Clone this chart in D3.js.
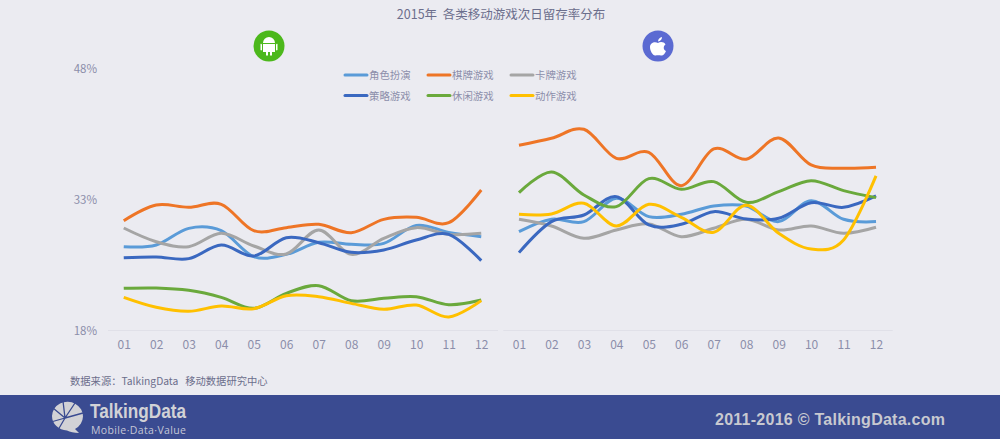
<!DOCTYPE html>
<html>
<head>
<meta charset="utf-8">
<script src="https://cdn.jsdelivr.net/npm/d3@7"></script>
<style>
  html, body { margin: 0; padding: 0; background: #ebebf1; overflow: hidden; }
  text { font-family: "Noto Sans CJK SC", "Noto Sans", sans-serif; white-space: pre; }
  .axis path { stroke: #e0e0e8; }
  .axis text { fill: #8b8eaa; font-size: 12px; font-family: "Noto Sans CJK SC", "Noto Sans", sans-serif; }
</style>
</head>
<body>
<svg id="chart" width="1000" height="439"></svg>
<script>
const months = ['01', '02', '03', '04', '05', '06', '07', '08', '09', '10', '11', '12'];
const yTicks = [18, 33, 48];
const seriesNames = ['角色扮演', '棋牌游戏', '卡牌游戏', '策略游戏', '休闲游戏', '动作游戏'];
const seriesColors = ['#5a9bd8', '#ee7526', '#a5a5a5', '#3a68c0', '#6aa93c', '#ffc000'];

// android
const androidRole = [27.54, 27.73, 29.64, 29.37, 26.40, 26.66, 28.04, 27.81, 27.92, 29.98, 29.18, 28.69];
const androidChess = [30.52, 32.31, 32.05, 32.39, 29.37, 29.72, 30.10, 29.14, 30.67, 30.90, 30.29, 34.03];
const androidCard = [29.68, 28.11, 27.54, 29.07, 27.62, 26.70, 29.45, 26.66, 28.50, 29.72, 28.95, 29.07];
const androidStrategy = [26.28, 26.36, 26.17, 27.73, 26.47, 28.57, 28.00, 26.89, 27.16, 28.30, 28.95, 25.94];
const androidCasual = [22.77, 22.81, 22.54, 21.74, 20.48, 22.20, 23.08, 21.36, 21.63, 21.82, 20.90, 21.43];
const androidAction = [21.74, 20.60, 20.14, 20.75, 20.44, 21.93, 21.82, 21.05, 20.37, 20.86, 19.49, 21.36];

// ios
const iosRole = [29.26, 30.68, 30.41, 33.08, 30.98, 31.25, 32.20, 32.20, 30.41, 32.81, 30.68, 30.41];
const iosChess = [39.15, 39.95, 40.98, 37.66, 38.35, 34.53, 38.73, 37.55, 39.99, 36.90, 36.52, 36.63];
const iosCard = [30.68, 29.91, 28.50, 29.45, 30.14, 28.69, 29.65, 30.68, 29.45, 29.91, 29.07, 29.76];
const iosStrategy = [26.86, 30.41, 31.17, 33.27, 30.03, 30.10, 31.55, 30.71, 30.79, 32.58, 32.05, 33.35];
const iosCasual = [33.73, 36.10, 33.46, 32.13, 35.33, 34.11, 34.99, 32.62, 33.84, 35.10, 33.96, 33.16];
const iosAction = [31.25, 31.29, 32.51, 29.91, 32.39, 30.90, 29.19, 32.28, 29.07, 27.28, 28.31, 35.64];

const androidSeries = [androidRole, androidChess, androidCard, androidStrategy, androidCasual, androidAction];
const iosSeries = [iosRole, iosChess, iosCard, iosStrategy, iosCasual, iosAction];

const svg = d3.select('#chart');
const yScale = d3.scaleLinear().domain([18, 48]).range([330, 68]);

svg.append('rect').attr('width', 1000).attr('height', 439).attr('fill', '#ebebf1');

svg.append('text')
  .attr('x', 501).attr('y', 18.5)
  .attr('text-anchor', 'middle')
  .attr('font-size', 12.5)
  .attr('fill', '#6b6e8c')
  .text('2015年  各类移动游戏次日留存率分布');

// y labels only, the axis line is hidden
const yAxis = svg.append('g')
  .attr('class', 'axis')
  .attr('transform', 'translate(97,1)')
  .call(d3.axisLeft(yScale).tickValues(yTicks).tickSize(0).tickPadding(0).tickFormat(d => d + '%'));
yAxis.select('.domain').remove();
yAxis.selectAll('text').style('font-size', '11.5px');

function drawPanel(left, right, series) {
  const xScale = d3.scalePoint().domain(months).range([left, right]).padding(0.5);
  const g = svg.append('g');

  g.append('g')
    .attr('class', 'axis')
    .attr('transform', 'translate(0,330)')
    .call(d3.axisBottom(xScale).tickSize(0).tickPadding(10));

  const line = d3.line()
    .x((d, i) => xScale(months[i]))
    .y(d => yScale(d))
    .curve(d3.curveCatmullRom.alpha(0));

  g.selectAll('.series')
    .data(series)
    .enter().append('path')
    .attr('class', 'series')
    .attr('fill', 'none')
    .attr('stroke', (d, i) => seriesColors[i])
    .attr('stroke-width', 3)
    .attr('d', line);
}

drawPanel(107.5, 497.5, androidSeries);
drawPanel(502.75, 892.25, iosSeries);

// legend, 3 per row
const legend = svg.selectAll('.legend')
  .data(seriesNames)
  .enter().append('g')
  .attr('class', 'legend')
  .attr('transform', (d, i) => 'translate(' + (345 + (i % 3) * 83) + ',' + (75 + Math.floor(i / 3) * 20.5) + ')');
legend.append('line')
  .attr('x1', 0).attr('x2', 22)
  .attr('stroke', (d, i) => seriesColors[i])
  .attr('stroke-width', 3)
  .attr('stroke-linecap', 'round');
legend.append('text')
  .attr('x', 24).attr('y', 4)
  .attr('font-size', 10.4)
  .attr('fill', '#8b8eaa')
  .text(d => d);

// android badge
const android = svg.append('g').attr('transform', 'translate(269,46)');
android.append('circle').attr('r', 15.5).attr('fill', '#4cb81c');
android.append('path').attr('fill', '#fff')
  .attr('d', 'M-6,-3 A6,6 0 0 1 6,-3 Z M-6,-2 H6 V6 H3 V9.5 H1 V6 H-1 V9.5 H-3 V6 H-6 Z M-8.5,-2 A1,1 0 0 1 -7,-1 V4 A1,1 0 0 1 -8.5,4 Z M8.5,-2 A1,1 0 0 0 7,-1 V4 A1,1 0 0 0 8.5,4 Z');

// apple badge
const apple = svg.append('g').attr('transform', 'translate(658,46)');
apple.append('circle').attr('r', 15.5).attr('fill', '#5b6ad2');
apple.append('path').attr('fill', '#fff')
  .attr('d', 'M0,-3 C2,-4.5 6,-4.5 7.5,-1.5 C5,0 5.2,4 8,5 C7,7.5 5,10 3,9.5 C1.5,9 -1,9 -2.5,9.5 C-5,10 -8,5 -8,1 C-8,-3.5 -3,-5 0,-3 Z M0,-4.5 C0,-7 2,-8.5 4,-9 C4,-6.5 2.5,-4.8 0,-4.5 Z');

svg.append('text')
  .attr('x', 70).attr('y', 384.5)
  .attr('font-size', 10.3)
  .attr('fill', '#6b6e8c')
  .text('数据来源：TalkingData   移动数据研究中心');

// footer band
svg.append('rect').attr('x', 0).attr('y', 395).attr('width', 1000).attr('height', 44).attr('fill', '#3a4b91');

const logo = svg.append('g').attr('transform', 'translate(67,416)');
logo.append('path').attr('fill', '#d2d2d6')
  .attr('d', 'M-15,0 A15.5,14.5 0 1 1 8,13 L12,17 C7,17 3,16 0,14.5 A15.5,14.5 0 0 1 -15,0 Z');
logo.append('path').attr('fill', 'none').attr('stroke', '#3a4b91').attr('stroke-width', 1.3)
  .attr('d', 'M-2,2 L-4,-15 M-2,2 L-14,-8 M-2,2 L-16,6 M-2,2 L-9,14 M-2,2 L8,-13 M-2,2 L16,-3');

svg.append('text')
  .attr('x', 90).attr('y', 418)
  .style('font-family', '"Liberation Sans"')
  .attr('font-weight', 'bold')
  .attr('font-size', 20)
  .attr('textLength', 96)
  .attr('lengthAdjust', 'spacingAndGlyphs')
  .attr('fill', '#d2d2d6')
  .text('TalkingData');

svg.append('text')
  .attr('x', 91).attr('y', 433.5)
  .style('font-family', '"Open Sans"')
  .attr('font-size', 10.5)
  .attr('textLength', 95)
  .attr('fill', '#c4c6d6')
  .text('Mobile·Data·Value');

svg.append('text')
  .attr('x', 715).attr('y', 425)
  .style('font-family', '"Liberation Sans"')
  .attr('font-weight', 'bold')
  .attr('font-size', 16)
  .attr('fill', '#c8c9d0')
  .attr('textLength', 230)
  .text('2011-2016 © TalkingData.com');
</script>
</body>
</html>
